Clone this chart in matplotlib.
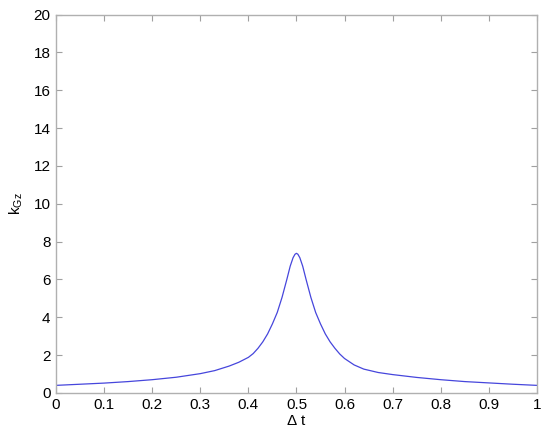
import numpy as np
import matplotlib
matplotlib.use('Agg')
import matplotlib.pyplot as plt

plt.rcParams['font.family'] = ['Liberation Sans', 'DejaVu Sans']
plt.rcParams['mathtext.fontset'] = 'custom'
plt.rcParams['mathtext.rm'] = 'Liberation Sans'

# values
dt = [0.0, 0.05, 0.1, 0.15, 0.2, 0.25, 0.3, 0.33, 0.36, 0.38, 0.4, 0.41,
      0.42, 0.43, 0.44, 0.45, 0.46, 0.47, 0.48, 0.487, 0.493, 0.497, 0.5,
      0.503, 0.507, 0.513, 0.52, 0.53, 0.54, 0.55, 0.56, 0.57, 0.58, 0.59,
      0.6, 0.62, 0.64, 0.67, 0.7, 0.75, 0.8, 0.85, 0.9, 0.95, 1.0]
k_gz = [0.40, 0.46, 0.52, 0.60, 0.70, 0.83, 1.02, 1.18, 1.42, 1.62, 1.88, 2.08,
        2.36, 2.70, 3.12, 3.65, 4.25, 5.05, 6.00, 6.70, 7.15, 7.33, 7.38,
        7.33, 7.15, 6.70, 6.00, 5.05, 4.25, 3.65, 3.12, 2.70, 2.36, 2.06,
        1.82, 1.48, 1.26, 1.08, 0.97, 0.82, 0.70, 0.60, 0.53, 0.46, 0.40]

x_ticks = [0, 0.1, 0.2, 0.3, 0.4, 0.5, 0.6, 0.7, 0.8, 0.9, 1]
x_labels = ['0', '0.1', '0.2', '0.3', '0.4', '0.5', '0.6', '0.7', '0.8', '0.9', '1']
y_ticks = [0, 2, 4, 6, 8, 10, 12, 14, 16, 18, 20]

fig = plt.figure(figsize=(5.5, 4.41), dpi=100)
ax = fig.add_axes([0.102, 0.109, 0.874, 0.858])

ax.plot(dt, k_gz, color='#4646dc', lw=0.9)

ax.set_xlim(0, 1)
ax.set_ylim(0, 20)
ax.set_xticks(x_ticks)
ax.set_xticklabels(x_labels)
ax.set_yticks(y_ticks)
ax.tick_params(direction='in', length=4, width=0.8, color='#a0a0a0',
               labelsize=11, labelcolor='black', top=True, right=True, pad=4)
for s in ax.spines.values():
    s.set_color('#b0b0b0')
    s.set_linewidth(1.0)

ax.set_xlabel(r'$\Delta$ t', fontsize=11, labelpad=1)
ax.set_ylabel(r'k$_{\rm Gz}$', fontsize=11, labelpad=6)

fig.savefig('out.png', dpi=100)
